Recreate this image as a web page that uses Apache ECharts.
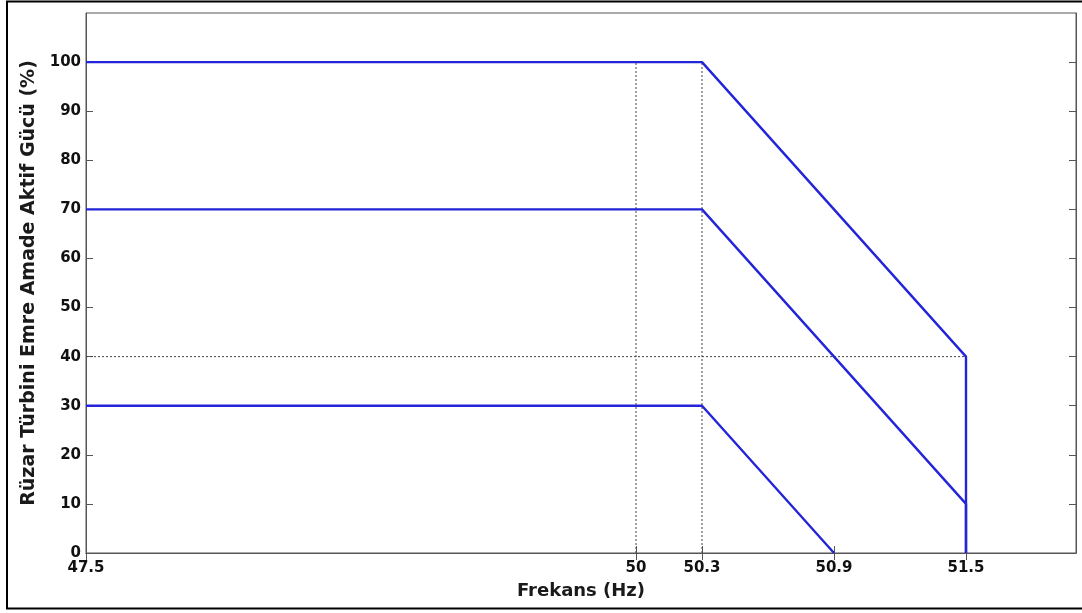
<!DOCTYPE html>
<html>
<head>
<meta charset="utf-8">
<script src="https://cdn.jsdelivr.net/npm/echarts@6/dist/echarts.min.js"></script>
<style>html,body{margin:0;padding:0;background:#fff}#c{width:1082px;height:613px}</style>
</head>
<body>
<div id="c"></div>
<script>
// Data
const xTicks = [47.5, 50, 50.3, 50.9, 51.5];
const yTicks = [0, 10, 20, 30, 40, 50, 60, 70, 80, 90, 100];
const curve100 = [[47.5, 100], [50.3, 100], [51.5, 40], [51.5, 0]];
const curve70 = [[47.5, 70], [50.3, 70], [51.5, 10], [51.5, 0]];
const curve30 = [[47.5, 30], [50.3, 30], [50.9, 0]];
const refV50 = [[50, 0], [50, 100]];
const refV503 = [[50.3, 0], [50.3, 100]];
const refH40 = [[47.5, 40], [51.5, 40]];
const xName = 'Frekans (Hz)';
const yName = 'Rüzar Türbini Emre Amade Aktif Gücü (%)';

const FONT = '"DejaVu Sans", "Liberation Sans", Arial, sans-serif';
const blue = '#2424d8';
const chart = echarts.init(document.getElementById('c'), null, {renderer: 'canvas'});

function blueLine(d) {
  return {type: 'line', data: d, showSymbol: false, symbol: 'none', animation: false,
    lineStyle: {color: blue, width: 2.4}, z: 5, xAxisIndex: 0, yAxisIndex: 0};
}
function refLine(d) {
  return {type: 'line', data: d, showSymbol: false, symbol: 'none', animation: false,
    lineStyle: {color: '#444', width: 1, type: [2, 2]}, z: 3, xAxisIndex: 0, yAxisIndex: 0};
}

const tickStyle = {show: true, inside: true, length: 7, lineStyle: {color: '#555', width: 1}};

chart.setOption({
  animation: false,
  backgroundColor: '#fff',
  grid: {left: 86, top: 13, right: 6, bottom: 60, show: true, borderColor: '#555', borderWidth: 1, containLabel: false},
  graphic: [{
    type: 'rect', shape: {x: 7, y: 1.5, width: 1090, height: 607},
    style: {fill: 'none', stroke: '#000', lineWidth: 2}, silent: true, z: 100
  }],
  xAxis: [{
    type: 'value', min: 47.5, max: 52, position: 'bottom',
    name: xName, nameLocation: 'middle', nameGap: 29,
    nameTextStyle: {fontFamily: FONT, fontSize: 18, fontWeight: 'bold', color: '#1a1a1a'},
    axisLine: {show: true, lineStyle: {color: '#555'}},
    axisTick: Object.assign({customValues: xTicks}, tickStyle),
    axisLabel: {customValues: xTicks, fontFamily: FONT, fontSize: 15, fontWeight: 'bold', color: '#111', margin: 8,
      formatter: v => String(v)},
    splitLine: {show: false}
  }, {
    type: 'value', min: 47.5, max: 52, position: 'top',
    axisLine: {show: true, lineStyle: {color: '#555'}},
    axisTick: Object.assign({customValues: xTicks}, tickStyle),
    axisLabel: {show: false},
    splitLine: {show: false}
  }],
  yAxis: [{
    type: 'value', min: 0, max: 110, interval: 10, position: 'left',
    name: yName, nameLocation: 'middle', nameGap: 45,
    nameTextStyle: {fontFamily: FONT, fontSize: 19, fontWeight: 'bold', color: '#1a1a1a'},
    axisLine: {show: true, lineStyle: {color: '#555'}},
    axisTick: Object.assign({customValues: yTicks}, tickStyle),
    axisLabel: {customValues: yTicks, fontFamily: FONT, fontSize: 15, fontWeight: 'bold', color: '#111', margin: 5},
    splitLine: {show: false}
  }, {
    type: 'value', min: 0, max: 110, interval: 10, position: 'right',
    axisLine: {show: true, lineStyle: {color: '#555'}},
    axisTick: Object.assign({customValues: yTicks}, tickStyle),
    axisLabel: {show: false},
    splitLine: {show: false}
  }],
  series: [
    refLine(refV50), refLine(refV503), refLine(refH40),
    blueLine(curve100), blueLine(curve70), blueLine(curve30)
  ]
});
</script>
</body>
</html>
